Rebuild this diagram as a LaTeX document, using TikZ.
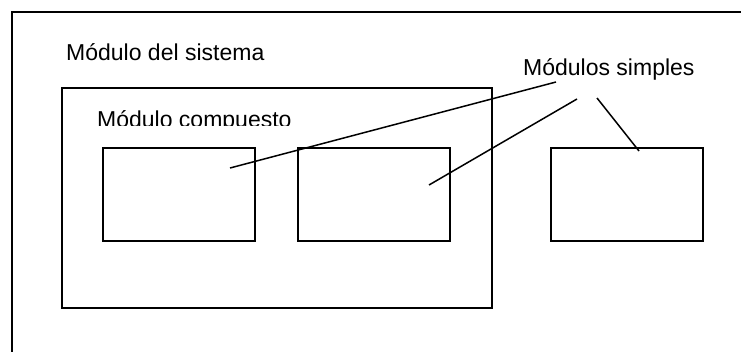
\documentclass[tikz,border=0pt]{standalone}
\usepackage{fontspec}
\setmainfont{Liberation Sans}
\usetikzlibrary{calc, positioning}

\begin{document}
\begin{tikzpicture}[x=1pt,y=-1pt]
  \tikzset{
    modbox/.style={draw, line width=2pt, minimum width=152pt, minimum height=93pt, inner sep=0pt},
    modlabel/.style={anchor=base west, inner sep=0pt, font=\fontsize{23}{27}\selectfont},
    leader/.style={line width=1.5pt}
  }
  \clip (0,0) rectangle (741,351);
  % system module, runs off the page on the right and bottom
  \draw[line width=2pt] (12,12) rectangle (780,390);
  \node[modlabel] (system) at (66,60) {Módulo del sistema};
  % composite module
  \node[draw, line width=2pt, minimum width=430pt, minimum height=220pt, inner sep=0pt] (compound) at (277,198) {};
  \begin{scope}
    \clip (64,90) rectangle (490,125);
    \node[modlabel] (compoundlabel) at (97,127.5) {Módulo compuesto};
  \end{scope}
  % simple modules
  \node[modbox] (simple1) at (179,194.5) {};
  \node[modbox] (simple2) at (373.5,194.5) {};
  \node[modbox] (simple3) at (627,194.5) {};
  \node[modlabel] (simples) at (523,75) {Módulos simples};
  \coordinate (tipA) at (230,168);
  \coordinate (tipB) at (429,185);
  \coordinate (tipC) at (639,151);
  \coordinate (footA) at (556,82);
  \coordinate (footB) at (577,99);
  \coordinate (footC) at (597,98);
  \draw[leader] (tipA) -- (footA);
  \draw[leader] (tipB) -- (footB);
  \draw[leader] (tipC) -- (footC);
\end{tikzpicture}
\end{document}
